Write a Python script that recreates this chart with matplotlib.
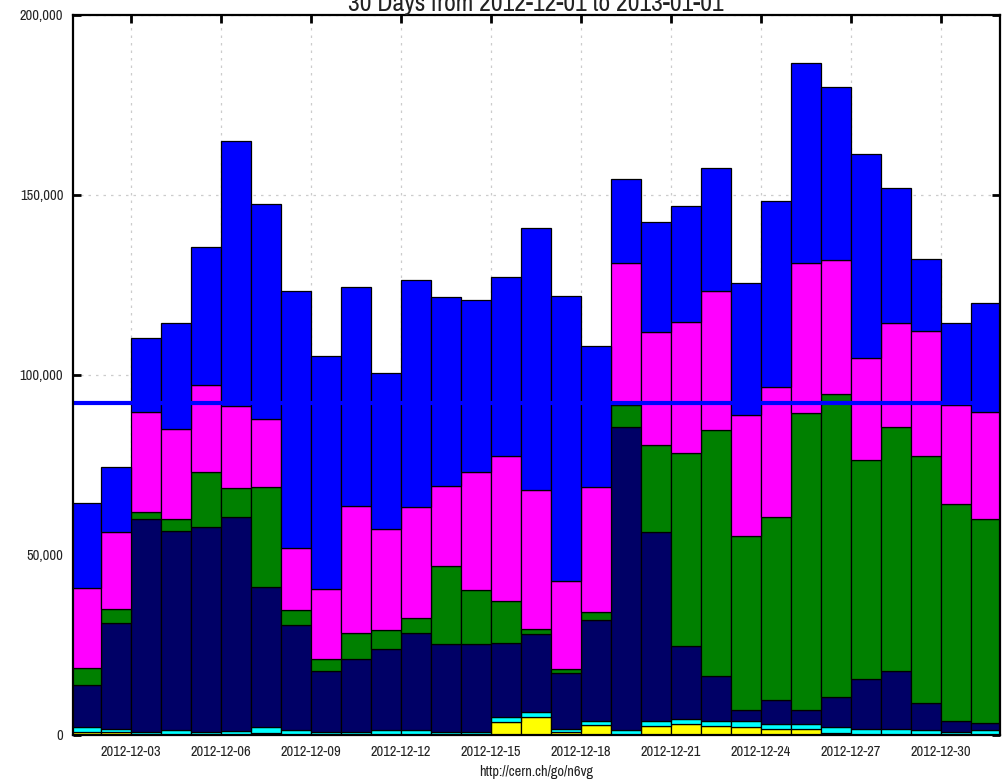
import matplotlib
matplotlib.use("Agg")
import matplotlib.pyplot as plt
from matplotlib import font_manager
from matplotlib.ticker import FuncFormatter, FixedLocator
import numpy as np

# ---- data (values per day, Dec 1 .. Dec 31, 2012) ----
days = [f"2012-12-{d:02d}" for d in range(1, 32)]
yellow = [750, 750, 0, 0, 0, 0, 500, 0, 0, 0, 0, 0, 0, 0, 3600, 4900, 800, 2700, 0, 2600,
          3100, 2600, 2100, 1750, 1750, 500, 0, 0, 0, 0, 0]
cyan = [1350, 1000, 750, 1300, 750, 1200, 1600, 1300, 750, 750, 1300, 1300, 750, 750, 1300,
        1400, 950, 1300, 1400, 1400, 1300, 1400, 1900, 1350, 1350, 1600, 1700, 1700, 1300, 800, 1400]
navy = [11700, 29250, 59350, 55300, 57150, 59400, 39000, 29300, 17150, 20250, 22500, 27100,
        24450, 24450, 20700, 21700, 15350, 27900, 84200, 52500, 20400, 12500, 2900, 6600, 3800,
        8500, 13900, 16200, 7500, 3100, 1800]
green = [4900, 4000, 1800, 3400, 15100, 8000, 27800, 4100, 3100, 7200, 5400, 4000, 21700,
         15000, 11700, 1400, 1100, 2400, 6100, 24100, 53500, 68200, 48400, 50900, 82500, 84100,
         60800, 67700, 68700, 60300, 56800]
magenta = [22200, 21300, 27700, 25000, 24300, 22900, 18900, 17200, 19500, 35500, 28000, 30800,
           22300, 32800, 40200, 38600, 24700, 34600, 39400, 31400, 36400, 38600, 33600, 36000,
           41700, 37200, 28300, 28800, 34700, 27500, 29600]
blue = [23500, 18100, 20700, 29400, 38300, 73500, 59700, 71400, 64800, 60700, 43400, 63200,
        52500, 47800, 49700, 72800, 79000, 39200, 23300, 30500, 32200, 34200, 36700, 51700,
        55600, 48100, 56700, 37500, 20000, 22700, 30400]
avg_line = 92100
tick_days = ["2012-12-03", "2012-12-06", "2012-12-09", "2012-12-12", "2012-12-15",
             "2012-12-18", "2012-12-21", "2012-12-24", "2012-12-27", "2012-12-30"]
title = "30 Days from 2012-12-01 to 2013-01-01"
xlabel = "http://cern.ch/go/n6vg"

series = [(yellow, "#ffff00"), (cyan, "#00ffff"), (navy, "#000066"),
          (green, "#008000"), (magenta, "#ff00ff"), (blue, "#0000ff")]


def find_narrow():
    entries = font_manager.fontManager.ttflist
    def is_regular(f):
        return f.style == "normal" and (f.weight in (400, "normal", "regular"))
    for f in entries:
        if f.name == "Liberation Sans Narrow" and is_regular(f):
            return f.fname
    for f in entries:
        if ("Narrow" in f.name or "Condensed" in f.name) and is_regular(f):
            return f.fname
    for f in entries:
        st = str(f.stretch).lower()
        if ("condensed" in st or "narrow" in st) and is_regular(f):
            return f.fname
    for f in entries:
        low = f.fname.lower()
        if ("condensed" in low or "narrow" in low) and "bold" not in low and "oblique" not in low \
                and "italic" not in low:
            return f.fname
    return None


narrow = find_narrow()
if narrow:
    fp = font_manager.FontProperties(fname=narrow, size=10.4)
    fp_title = font_manager.FontProperties(fname=narrow, size=18.5)
else:
    fp = font_manager.FontProperties(family="DejaVu Sans", size=8.0)
    fp_title = font_manager.FontProperties(family="DejaVu Sans", size=14.5)

fig = plt.figure(figsize=(10.05, 7.81), dpi=100)
ax = fig.add_axes([73 / 1005, 46 / 781, 927 / 1005, 720 / 781])

x = np.arange(len(days))
bottom = np.zeros(len(days))
for vals, col in series:
    v = np.array(vals, dtype=float)
    ax.bar(x, v, width=1.0, bottom=bottom, align="edge", color=col,
           edgecolor="black", linewidth=0.9, zorder=2)
    bottom += v

ax.axhline(avg_line, color="#0000ff", linewidth=3.0, zorder=5)

ax.set_xlim(0.067, 30.97)
ax.set_ylim(0, 200000)
tick_pos = [days.index(d) for d in tick_days]
ax.xaxis.set_major_locator(FixedLocator(tick_pos))
ax.set_xticklabels(tick_days)
ax.set_yticks([0, 50000, 100000, 150000, 200000])
ax.yaxis.set_major_formatter(FuncFormatter(lambda v, p: f"{int(v):,}"))

ax.tick_params(axis="both", which="both", direction="in", length=6, width=2,
               top=True, right=True, colors="black", labelcolor="#222222")
ax.tick_params(axis="x", pad=7)
ax.tick_params(axis="y", pad=7)
for lab in ax.get_xticklabels() + ax.get_yticklabels():
    lab.set_fontproperties(fp)

ax.grid(True, color="#cccccc", linestyle=(0, (2, 4)), linewidth=0.9, zorder=0)
ax.set_axisbelow(True)
for s in ax.spines.values():
    s.set_linewidth(1.6)
    s.set_color("black")
    s.set_zorder(6)

fig.text(536 / 1005, 1 - 11 / 781, title, ha="center", va="baseline",
         fontproperties=fp_title, color="#222222")
fig.text(536 / 1005, 1 - 776 / 781, xlabel, ha="center", va="baseline",
         fontproperties=fp, color="#222222")

fig.savefig("out.png", dpi=100)
